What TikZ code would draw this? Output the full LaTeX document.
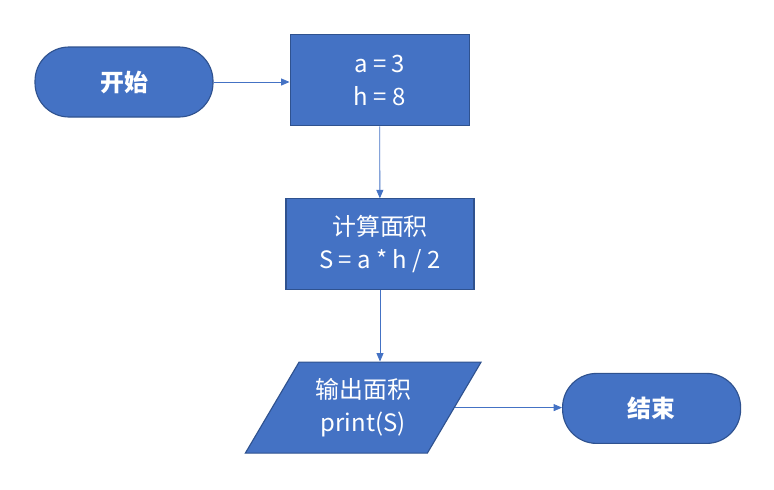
\documentclass[tikz,border=0pt]{standalone}
\usepackage{fontspec}
\setmainfont{Noto Sans CJK SC}
\usetikzlibrary{shapes.geometric, positioning, arrows.meta}
\definecolor{boxFill}{HTML}{4472C4}
\definecolor{boxLine}{HTML}{2F528F}
\definecolor{arrowLine}{HTML}{4472C4}
\tikzset{
    base/.style = {fill=boxFill, draw=boxLine, line width=0.8pt, text=white,
                   align=center, font=\fontsize{17}{23.5}\selectfont, inner sep=0pt},
    terminal/.style = {base, rounded corners=0.85cm, minimum width=4.45cm,
                       minimum height=1.75cm, font=\fontsize{17}{23.5}\selectfont\bfseries},
    process/.style = {base, minimum height=2.275cm},
    io/.style = {base, trapezium, trapezium left angle=55.7, trapezium right angle=124.3,
                 trapezium stretches=true, minimum width=5.9cm, minimum height=2.275cm},
    flow/.style = {draw=arrowLine, line width=0.6pt, -{Triangle[length=6pt,width=5pt]}}
}
\begin{document}
\begin{tikzpicture}
    \useasboundingbox (0,0) rectangle (19.35,-12.225);
    % nodes
    \node[terminal] (start) at (3.1,-2.05) {开始};
    \node[process, minimum width=4.475cm] (init) at (9.49,-2.01) {a = 3\\h = 8};
    \node[process, minimum width=4.7cm] (calc) at (9.5,-6.11) {计算面积\\S = a * h / 2};
    \node[io] (out) at (9.08,-10.19) {输出面积\\print(S)};
    \node[terminal] (stop) at (16.29,-10.21) {结束};
    % connectors
    \draw[flow] (start) -- (init.west |- start);
    \draw[flow] (init) -- (calc);
    \draw[flow] (calc.south) -- (calc.south |- out.north);
    \draw[flow] (out.east) -- (stop.west |- out.east);
\end{tikzpicture}
\end{document}
